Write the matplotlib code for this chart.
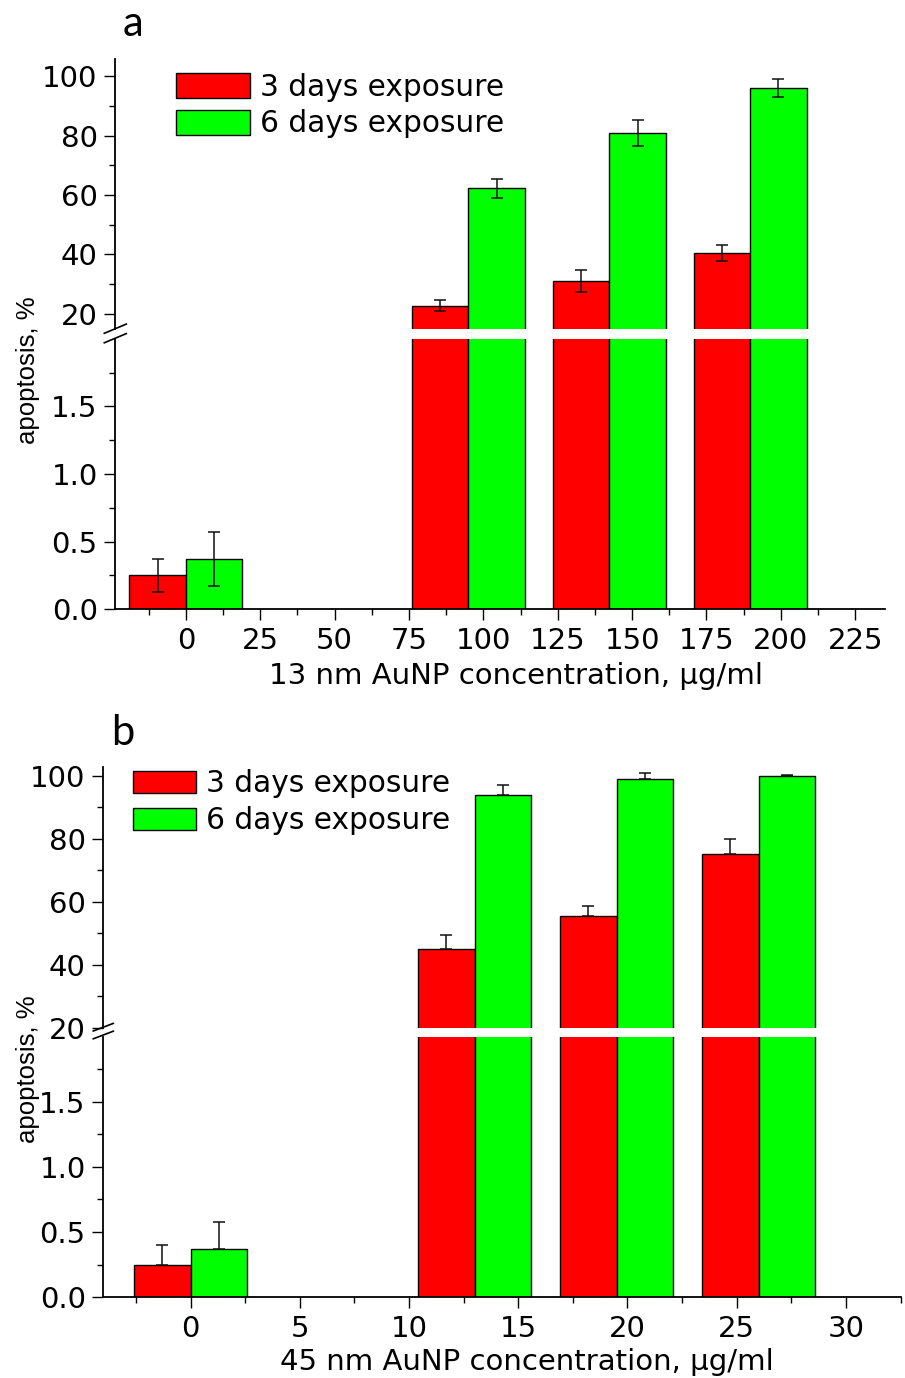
import matplotlib
matplotlib.use("Agg")
import matplotlib.pyplot as plt
from matplotlib.lines import Line2D
import numpy as np

# ---- data ----
# panel a: 13 nm AuNP
a_pos = [0, 95, 142.4, 189.7]          # group centres on the concentration axis
a_3d = [0.25, 22.8, 31.1, 40.4]
a_3d_err = [0.12, 1.7, 3.7, 2.7]
a_6d = [0.37, 62.3, 80.9, 96.0]
a_6d_err = [0.20, 3.25, 4.5, 3.05]

# panel b: 45 nm AuNP
b_pos = [0, 13, 19.5, 26]
b_3d = [0.25, 45.0, 55.5, 75.1]
b_3d_err = [0.15, 4.4, 3.1, 4.9]
b_6d = [0.37, 93.8, 99.0, 99.9]
b_6d_err = [0.21, 3.3, 1.9, 0.4]

labels = ["3 days exposure", "6 days exposure"]
RED = "#ff0000"
GREEN = "#00ff00"

W, H = 905, 1378
plt.rcParams["font.family"] = "DejaVu Sans"
plt.rcParams["axes.linewidth"] = 1.3

fig = plt.figure(figsize=(W / 100, H / 100), dpi=100)


def rect(left, right, top, bottom):
    return [left / W, 1 - bottom / H, (right - left) / W, (bottom - top) / H]


def style(ax, bottom_axis):
    ax.spines["top"].set_visible(False)
    ax.spines["right"].set_visible(False)
    ax.spines["bottom"].set_visible(bottom_axis)
    ax.tick_params(which="major", direction="out", length=7.7, width=1.0,
                   labelsize=21, pad=5)
    ax.tick_params(which="minor", direction="out", length=4.3, width=1.0)
    if not bottom_axis:
        ax.tick_params(axis="x", which="both", bottom=False, labelbottom=False)


def draw_bars(ax, pos, width, v3, e3, v6, e6, both_sides):
    pos = np.asarray(pos, dtype=float)
    ax.bar(pos - width / 2, v3, width, color=RED, edgecolor="black", linewidth=1.0, zorder=2)
    ax.bar(pos + width / 2, v6, width, color=GREEN, edgecolor="black", linewidth=1.0, zorder=2)
    if both_sides:
        err3, err6 = e3, e6
    else:
        err3 = [np.zeros(len(e3)), e3]
        err6 = [np.zeros(len(e6)), e6]
    ax.errorbar(pos - width / 2, v3, yerr=err3, fmt="none", ecolor="#111111",
                elinewidth=1.1, capsize=4, capthick=1.1, zorder=3)
    ax.errorbar(pos + width / 2, v6, yerr=err6, fmt="none", ecolor="#111111",
                elinewidth=1.1, capsize=4, capthick=1.1, zorder=3)


def break_marks(x, ys, dx, dy):
    for y in ys:
        fig.add_artist(Line2D([(x - dx) / W, (x + dx) / W],
                              [1 - (y + dy) / H, 1 - (y - dy) / H],
                              color="black", linewidth=1.2))


def panel(upper_box, lower_box, pos, width, xlim, ylim_up, ylim_lo,
          xmajor, xminor, v3, e3, v6, e6, both_sides, xlabel, xlabel_x):
    up = fig.add_axes(rect(*upper_box))
    lo = fig.add_axes(rect(*lower_box))
    for ax in (up, lo):
        draw_bars(ax, pos, width, v3, e3, v6, e6, both_sides)
        ax.set_xlim(*xlim)
    up.set_ylim(*ylim_up)
    lo.set_ylim(*ylim_lo)
    style(up, False)
    style(lo, True)
    up.set_yticks([20, 40, 60, 80, 100])
    up.set_yticks([30, 50, 70, 90], minor=True)
    lo.set_yticks([0.0, 0.5, 1.0, 1.5])
    lo.set_yticklabels(["0.0", "0.5", "1.0", "1.5"])
    lo.set_yticks([0.25, 0.75, 1.25, 1.75], minor=True)
    lo.set_xticks(xmajor)
    lo.set_xticks(xminor, minor=True)
    lo.set_xlabel(xlabel, fontsize=21)
    lo.xaxis.set_label_coords(xlabel_x, -0.195)
    return up, lo


# panel a
up_a, lo_a = panel(
    (115.3, 885, 59, 328.7), (115.3, 885, 338.7, 609.3),
    a_pos, 19.0, (-23.7, 235), (15, 105.8), (0, 2.0),
    np.arange(0, 226, 25), np.arange(-12.5, 235, 25),
    a_3d, a_3d_err, a_6d, a_6d_err, True,
    "13 nm AuNP concentration, \u03bcg/ml", 0.52)

# panel b
up_b, lo_b = panel(
    (103.3, 900.5, 766.7, 1028), (103.3, 900.5, 1037, 1297.3),
    b_pos, 2.6, (-4, 32.5), (20, 102.85), (0, 1.995),
    np.arange(0, 31, 5), np.arange(-2.5, 33, 5),
    b_3d, b_3d_err, b_6d, b_6d_err, False,
    "45 nm AuNP concentration, \u03bcg/ml", 0.531)

# break marks on the y axes
break_marks(115.3, [328.7, 338.2], 11, 4.6)
break_marks(103.3, [1027.2, 1035.0], 10, 3.8)

# legends
handles = [plt.Rectangle((0, 0), 1, 1, facecolor=RED, edgecolor="black", linewidth=1.0),
           plt.Rectangle((0, 0), 1, 1, facecolor=GREEN, edgecolor="black", linewidth=1.0)]
fig.legend(handles, labels, loc="upper left", bbox_to_anchor=(176 / W, 1 - 72.5 / H),
           frameon=False, fontsize=21.3, borderpad=0, borderaxespad=0,
           handlelength=2.5, handleheight=0.92, handletextpad=0.34, labelspacing=0.27)
fig.legend(handles, labels, loc="upper left", bbox_to_anchor=(133 / W, 1 - 769.5 / H),
           frameon=False, fontsize=21.3, borderpad=0, borderaxespad=0,
           handlelength=2.12, handleheight=0.74, handletextpad=0.34, labelspacing=0.27)

# y labels
fig.text(28 / W, 1 - 370 / H, "apoptosis, %", rotation=90, ha="center", va="center",
         fontsize=18.5, family="Liberation Sans")
fig.text(28 / W, 1 - 1069 / H, "apoptosis, %", rotation=90, ha="center", va="center",
         fontsize=18.5, family="Liberation Sans")

# panel letters
fig.text(132.5 / W, 1 - 36 / H, "a", ha="center", va="baseline", fontsize=30, family="Lato")
fig.text(123 / W, 1 - 745 / H, "b", ha="center", va="baseline", fontsize=30, family="Lato")

fig.savefig("out.png", dpi=100)
